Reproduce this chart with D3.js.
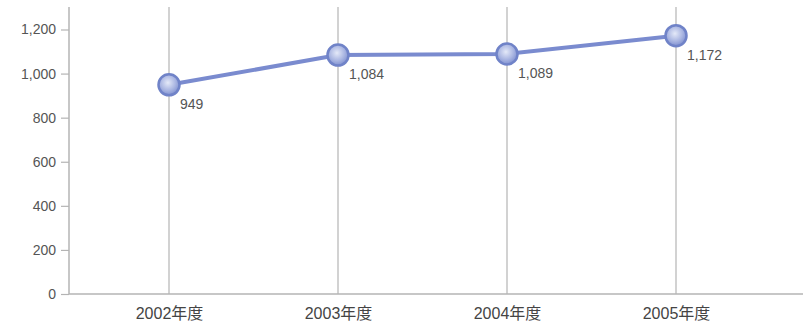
<!DOCTYPE html>
<html><head><meta charset="utf-8">
<script src="https://cdn.jsdelivr.net/npm/d3@7"></script>
<style>body{margin:0;background:#fff}svg{display:block}</style>
</head><body><svg id="c" width="810" height="326"></svg>
<script>
const categories = ["2002年度","2003年度","2004年度","2005年度"];
const values = [949, 1084, 1089, 1172];
const valueLabels = ["949","1,084","1,089","1,172"];
const yTicks = [0,200,400,600,800,1000,1200];

const svg = d3.select("#c");
const font = "'Liberation Sans','Noto Sans CJK JP',sans-serif";
const y = d3.scaleLinear().domain([0,1200]).range([294,29.5]);
const x = d3.scalePoint().domain(categories).range([169,676]);
const axisColor = "#b4b4b4";

const defs = svg.append("defs");
const g = defs.append("radialGradient").attr("id","ball").attr("cx","45%").attr("cy","40%").attr("r","60%");
g.append("stop").attr("offset","0%").attr("stop-color","#e4e9f8");
g.append("stop").attr("offset","60%").attr("stop-color","#aab6e2");
g.append("stop").attr("offset","100%").attr("stop-color","#7f90d0");

svg.selectAll(".vg").data(categories).enter().append("line")
  .attr("x1",d=>x(d)).attr("x2",d=>x(d)).attr("y1",7).attr("y2",y(0))
  .attr("stroke",axisColor).attr("stroke-width",1.2);

const ya = svg.append("g").attr("transform","translate(69,0)")
  .call(d3.axisLeft(y).tickValues(yTicks).tickSize(8).tickPadding(5).tickFormat(d3.format(",")));
ya.select(".domain").remove();
ya.selectAll(".tick line").attr("stroke",axisColor).attr("stroke-width",1.2);
ya.selectAll(".tick text").attr("fill","#555").style("font-family",font).style("font-size","14px");
svg.append("line").attr("x1",69).attr("x2",69).attr("y1",7).attr("y2",y(0)).attr("stroke",axisColor).attr("stroke-width",1.5);

const xa = svg.append("g").attr("transform",`translate(0,${y(0)})`)
  .call(d3.axisBottom(x).tickSize(0).tickPadding(14));
xa.select(".domain").remove();
xa.selectAll(".tick text").attr("fill","#444").style("font-family",font).style("font-size","16px");
svg.append("line").attr("x1",69).attr("x2",803).attr("y1",y(0)).attr("y2",y(0)).attr("stroke",axisColor).attr("stroke-width",1.5);

const data = categories.map((c,i)=>({c,v:values[i],l:valueLabels[i]}));
svg.append("path").datum(data)
  .attr("d",d3.line().x(d=>x(d.c)).y(d=>y(d.v)))
  .attr("fill","none").attr("stroke","#7a8bcf").attr("stroke-width",4);

svg.selectAll(".pt").data(data).enter().append("circle")
  .attr("cx",d=>x(d.c)).attr("cy",d=>y(d.v)).attr("r",10.5)
  .attr("fill","url(#ball)").attr("stroke","#7083c8").attr("stroke-width",2.5);

svg.selectAll(".lb").data(data).enter().append("text")
  .attr("x",d=>x(d.c)+11).attr("y",d=>y(d.v)+24)
  .attr("fill","#555").style("font-family",font).style("font-size","14px")
  .text(d=>d.l);
</script></body></html>
